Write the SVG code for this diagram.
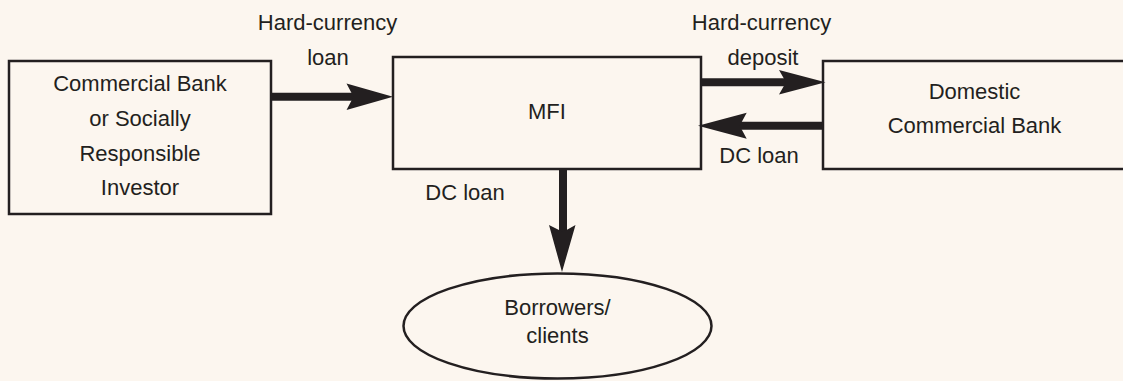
<svg xmlns="http://www.w3.org/2000/svg" width="1123" height="381" viewBox="0 0 1123 381">
<style>
.bg{fill:#FCF6EF}
.box{fill:#FCF6EF;stroke:#231F20;stroke-width:2.5}
.t{font-family:"Liberation Sans",Arial,sans-serif;font-size:22px;fill:#231F20;text-anchor:middle}
.shaft{stroke:#231F20;stroke-width:8;fill:none}
.head{fill:#231F20;stroke:none}
</style>
<rect class="bg" x="0" y="0" width="1123" height="381"/>
<g id="investor">
<rect class="box" x="9" y="61" width="262" height="153"/>
<text class="t" x="140" y="91">Commercial Bank</text>
<text class="t" x="140" y="126">or Socially</text>
<text class="t" x="140" y="161">Responsible</text>
<text class="t" x="140" y="195">Investor</text>
</g>
<g id="mfi">
<rect class="box" x="393" y="57" width="308" height="112"/>
<text class="t" x="547" y="119">MFI</text>
</g>
<g id="domestic">
<rect class="box" x="823" y="61" width="305" height="108"/>
<text class="t" x="974.5" y="99">Domestic</text>
<text class="t" x="974.5" y="133">Commercial Bank</text>
</g>
<g id="borrowers">
<ellipse class="box" cx="557.5" cy="326" rx="154" ry="52.5" stroke-width="2.2"/>
<text class="t" x="557.5" y="315">Borrowers/</text>
<text class="t" x="557.5" y="343">clients</text>
</g>
<g id="connectors">
<line class="shaft" x1="271" y1="96.7" x2="356" y2="96.7"/>
<polygon class="head" points="393,96.7 346.5,83.5 353.5,96.7 346.5,110"/>
<line class="shaft" x1="701" y1="82.3" x2="788" y2="82.3"/>
<polygon class="head" points="825.5,82.3 779,70 786,82.3 779,94.6"/>
<line class="shaft" x1="823" y1="125.7" x2="738" y2="125.7"/>
<polygon class="head" points="698,125.7 746.7,112.7 739.7,125.7 746.7,138.7"/>
<line class="shaft" x1="563" y1="169" x2="563" y2="234"/>
<polygon class="head" points="562,272 549,225 563,232 575.5,225"/>
</g>
<g id="labels">
<text class="t" x="327.5" y="30">Hard-currency</text>
<text class="t" x="328" y="65">loan</text>
<text class="t" x="761.5" y="30">Hard-currency</text>
<text class="t" x="763" y="65">deposit</text>
<text class="t" x="759" y="163">DC loan</text>
<text class="t" x="465" y="200">DC loan</text>
</g>
</svg>
